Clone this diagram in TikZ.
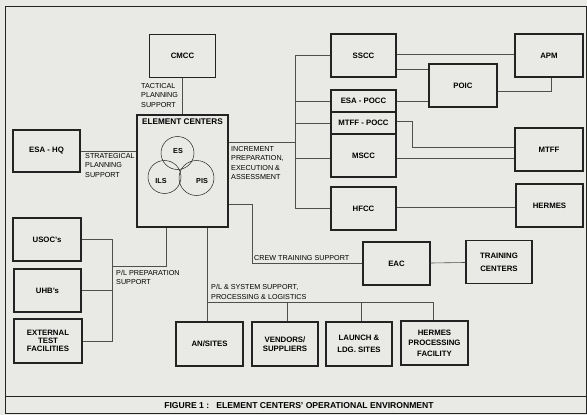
\documentclass[tikz,border=0pt]{standalone}
\usepackage{fontspec}
\setmainfont{Liberation Sans}
\usepackage{xcolor}
\definecolor{paper}{RGB}{233,233,230}
\definecolor{ink}{RGB}{35,35,35}

\begin{document}
\begin{tikzpicture}[x=1pt,y=-1pt,
	box/.style={draw=ink,line width=1.3pt,fill=paper,align=center,inner sep=1pt,minimum width=66pt,minimum height=43pt,font=\fontsize{7.8}{9.5}\selectfont\bfseries},
	thinbox/.style={box,minimum height=22pt},
	wire/.style={draw=ink!80,line width=0.6pt},
	note/.style={align=left,inner sep=0pt,font=\fontsize{7.2}{9.5}\selectfont}]

	\useasboundingbox (0,0) rectangle (587,415);
	\fill[paper] (0,0) rectangle (587,415);
	\draw[ink,line width=1pt] (5,6) rectangle (586,413);
	\draw[ink,line width=1pt] (5,396) -- (586,396);
	\node[inner sep=0pt,font=\fontsize{8.6}{10}\selectfont\bfseries] (caption) at (299,406) {FIGURE 1 :\ \ \ ELEMENT CENTERS' OPERATIONAL ENVIRONMENT};

	\node[box,minimum width=91pt,minimum height=112pt,line width=2.2pt] (ec) at (182.5,171) {};
	\node[anchor=north,inner sep=0pt,font=\fontsize{8.2}{10}\selectfont\bfseries] (ectitle) at ([yshift=-5pt]ec.north) {ELEMENT CENTERS};
	\node[draw=ink,circle,line width=0.5pt,minimum size=33pt,inner sep=0pt] (es) at (177.5,153) {};
	\node[draw=ink,circle,line width=0.5pt,minimum size=33pt,inner sep=0pt] (ils) at (164.5,177) {};
	\node[draw=ink,circle,line width=0.5pt,minimum size=35pt,inner sep=0pt] (pis) at (196.5,178) {};
	\node[font=\fontsize{7.2}{8}\selectfont\bfseries,inner sep=0pt] (eslab) at (178,151) {ES};
	\node[font=\fontsize{7.2}{8}\selectfont\bfseries,inner sep=0pt] (ilslab) at (161,181) {ILS};
	\node[font=\fontsize{7.2}{8}\selectfont\bfseries,inner sep=0pt] (pislab) at (202,181) {PIS};

	\node[box] (cmcc) at (182.5,56) {CMCC};
	\node[box,minimum width=67pt,minimum height=42pt] (esahq) at (46.5,151) {ESA - HQ};

	\node[box,minimum width=65pt] (sscc) at (363.5,55.5) {SSCC};
	\node[thinbox,minimum width=65pt] (esapocc) at (363.5,101) {ESA - POCC};
	\node[thinbox,minimum width=65pt] (mtffpocc) at (363.5,123) {MTFF - POCC};
	\node[box,minimum width=65pt] (mscc) at (363.5,155.5) {MSCC};
	\node[box,minimum width=65pt] (hfcc) at (363.5,208.5) {HFCC};
	\node[box,minimum width=68pt] (poic) at (463,85.5) {POIC};
	\node[box,minimum width=68pt] (apm) at (549,55.5) {APM};
	\node[box,minimum width=68pt] (mtff) at (549,149.5) {MTFF};
	\node[box,minimum width=67pt] (hermes) at (549.5,205.5) {HERMES};

	\node[box,minimum width=67pt] (eac) at (396.5,263.5) {EAC};
	\node[box] (tc) at (499,262) {TRAINING\\[3.5pt]CENTERS};

	\node[box,minimum width=68pt] (usoc) at (47,239.5) {USOC's};
	\node[box,minimum width=67pt] (uhb) at (47.5,290.5) {UHB's};
	\node[box,minimum width=68pt,minimum height=44pt,font=\fontsize{7.8}{7.8}\selectfont\bfseries] (etf) at (48,341) {EXTERNAL\\TEST\\FACILITIES};

	\node[box,minimum width=67pt,minimum height=44pt] (ansites) at (209.5,344) {AN/SITES};
	\node[box,minimum height=44pt] (vendors) at (285,344) {VENDORS/\\SUPPLIERS};
	\node[box,minimum height=44pt] (launch) at (359,344) {LAUNCH \&\\[2.5pt]LDG. SITES};
	\node[box,minimum width=67pt,minimum height=44pt,font=\fontsize{7.8}{10.5}\selectfont\bfseries] (hpf) at (434.5,343) {HERMES\\PROCESSING\\FACILITY};

	\coordinate (bus) at (295,0);
	\coordinate (plbus) at (112,0);
	\coordinate (plj) at (112,266);
	\coordinate (logj) at (207,302);

	\draw[wire] (cmcc) -- (ec);
	\draw[wire] (esahq.east) -- (esahq.east -| ec.west);
	\draw[wire] ([yshift=-28pt]ec.north east) -- ([yshift=-28pt]ec.north east -| bus);
	\draw[wire] (sscc.west) -- (sscc.west -| bus) -- (hfcc.west -| bus) -- (hfcc.west);
	\draw[wire] (esapocc.west) -- (esapocc.west -| bus);
	\draw[wire] (mtffpocc.west) -- (mtffpocc.west -| bus);
	\draw[wire] ([yshift=-3pt]mscc.west) -- ([yshift=-3pt]mscc.west -| bus);

	\draw[wire] ([yshift=1.5pt]sscc.east) -- ([yshift=1.5pt]sscc.east -| apm.west);
	\draw[wire] ([yshift=-13.5pt]sscc.east) -- ([yshift=-13.5pt]sscc.east -| poic.west);
	\draw[wire] ([yshift=-5.5pt]poic.east) -| ([xshift=2pt]apm.south);
	\draw[wire] (esapocc.east) -- (esapocc.east -| poic.west);
	\draw[wire] ([yshift=2pt]mtffpocc.east) -- ++(16,0) |- ([yshift=2.5pt]mtff.west);
	\draw[wire] ([yshift=-2.5pt]mscc.east) -- ([yshift=-2.5pt]mscc.east -| mtff.west);
	\draw[wire] ([yshift=1.5pt]hfcc.east) -- ([yshift=1.5pt]hfcc.east -| hermes.west);

	\draw[wire] ([yshift=-90pt]ec.north east) -- ++(23,0) |- (eac.west);
	\draw[wire] (eac) -- (tc);

	\draw[wire] (usoc.east) -- (usoc.east -| plbus) -- (etf.east -| plbus) -- (etf.east);
	\draw[wire] (uhb.east) -- (uhb.east -| plbus);
	\draw[wire] ([xshift=-16.5pt]ec.south) |- (plj);

	\draw[wire] ([xshift=24.5pt]ec.south) -- ([xshift=24.5pt]ec.south |- ansites.north);
	\draw[wire] (logj) -| ([xshift=-1.5pt]hpf.north);
	\draw[wire] ([xshift=2pt]vendors.north) -- ([xshift=2pt]vendors.north |- logj);
	\draw[wire] ([xshift=2pt]launch.north) -- ([xshift=2pt]launch.north |- logj);

	\node[note,anchor=north west] (tactical) at (141,83) {TACTICAL\\PLANNING\\SUPPORT};
	\node[note,anchor=north west] (strategical) at (85,153) {STRATEGICAL\\PLANNING\\SUPPORT};
	\node[note,anchor=north west] (increment) at (231,146) {INCREMENT\\PREPARATION,\\EXECUTION \&\\ASSESSMENT};
	\node[note,anchor=south west] (crew) at (254,261) {CREW TRAINING SUPPORT};
	\node[note,anchor=north west] (plprep) at (116,270) {P/L PREPARATION\\SUPPORT};
	\node[note,anchor=south west] (plsys) at (211,299.5) {P/L \& SYSTEM SUPPORT,\\PROCESSING \& LOGISTICS};

\end{tikzpicture}
\end{document}
